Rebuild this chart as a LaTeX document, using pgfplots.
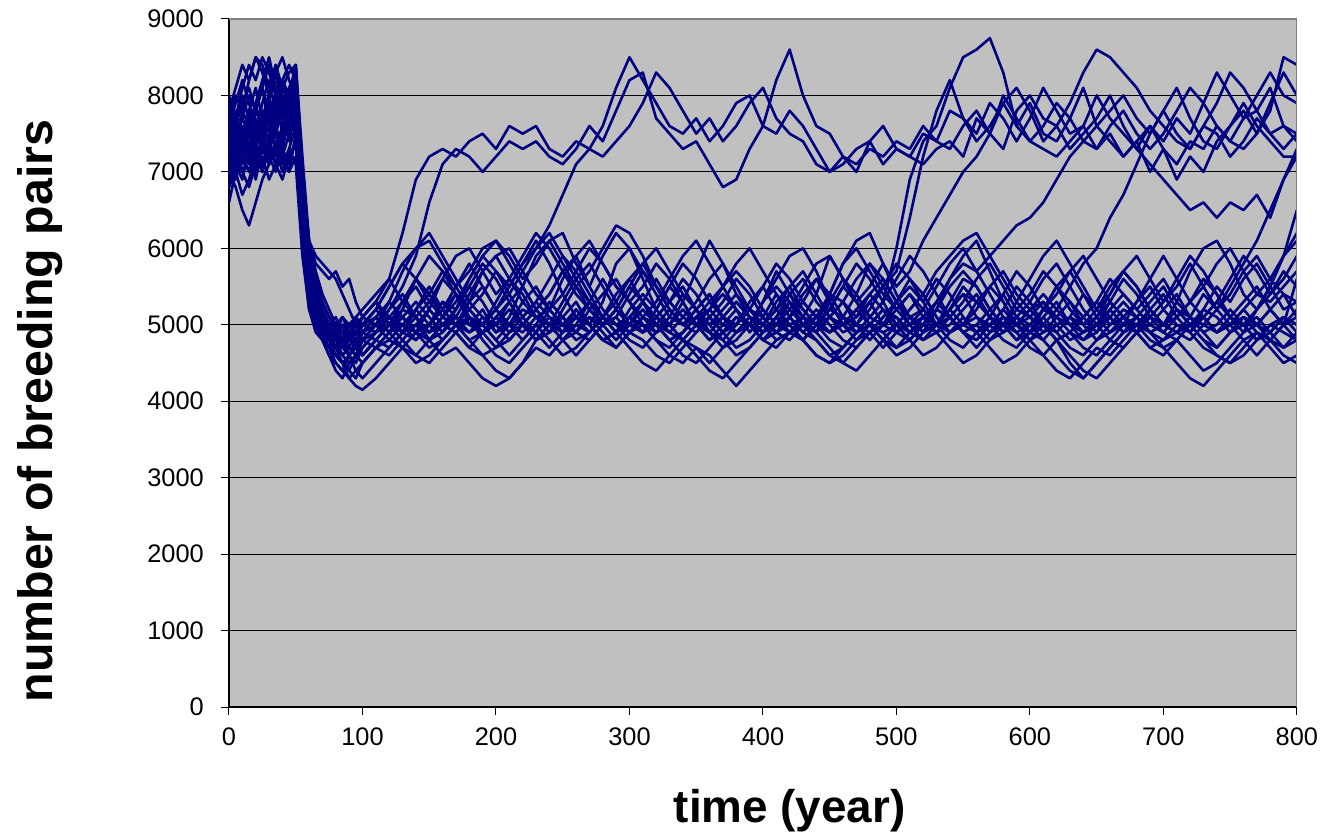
\documentclass[border=0pt]{standalone}
\usepackage{pgfplots}
\usepackage{pgfplotstable}
\pgfplotsset{compat=1.18}
\usepackage{fontspec}
\setmainfont{Liberation Sans}
\definecolor{navy}{RGB}{0,0,128}
\definecolor{bggray}{RGB}{192,192,192}
\definecolor{bordergray}{RGB}{128,128,128}

\pgfplotstableread{
name 0 5 10 15 20 25 30 35 40 45 50 55 60 65 70 75 80 85 90 95 100 110 120 130 140 150 160 170 180 190 200 210 220 230 240 250 260 270 280 290 300 310 320 330 340 350 360 370 380 390 400 410 420 430 440 450 460 470 480 490 500 510 520 530 540 550 560 570 580 590 600 610 620 630 640 650 660 670 680 690 700 710 720 730 740 750 760 770 780 790 800
U1 7100 7400 7800 7600 7900 8200 8500 8100 7700 8000 8300 6600 5600 5300 5000 4800 4900 4700 4800 5000 5100 5300 5600 6200 6900 7200 7300 7200 7400 7500 7300 7600 7500 7600 7300 7200 7400 7300 7600 8100 8500 8200 7900 7600 7500 7700 7400 7600 7900 8000 7600 8200 8600 8000 7600 7500 7200 7100 7300 7200 7400 7300 7600 7400 7800 7700 7500 7900 7700 7400 7700 8100 7800 7500 7600 8000 7700 7500 7300 7600 7400 7700 7500 7900 8300 8000 7700 7800 8100 7600 7400
U2 7300 7000 7200 7500 7100 7400 7700 7300 7600 7900 8400 7000 5900 5500 5200 5000 4900 5000 4800 4700 4900 5000 5200 5500 5900 6600 7100 7300 7200 7000 7200 7400 7300 7400 7200 7100 7300 7600 7400 7800 8200 8300 7700 7500 7300 7400 7100 6800 6900 7300 7600 7500 7800 7600 7300 7000 7100 7300 7400 7100 7300 7200 7100 7300 7400 7200 7700 7500 7300 7800 8000 7700 7600 7900 8300 8600 8500 8300 8100 7800 7600 7400 7300 7600 7500 7200 7400 7700 7500 7300 7500
U3 6600 7000 7300 7100 7600 7400 7800 8000 7500 7700 8100 6800 5800 5300 5100 4900 4700 4500 4600 4400 4300 4500 4700 4900 4800 5000 5300 5200 5600 5900 5700 5500 5800 6000 6300 6700 7100 7300 7200 7400 7600 7900 8300 8100 7800 7500 7700 7400 7600 7900 8100 7700 7500 7400 7100 7000 7200 7000 7400 7600 7300 7200 7500 7400 7300 7600 7800 7500 7900 7600 7400 7300 7200 7400 7600 7300 7500 7200 7400 7000 7300 6900 7200 7000 7400 7600 7800 7500 7900 8300 8000
U4 7500 7800 7200 7000 7400 7700 7300 7600 7900 7400 7800 6300 5400 5100 4900 4800 5000 4900 4700 4600 4800 5000 5300 5100 4900 5200 5600 5400 5000 4900 5100 5300 5000 4900 5200 5600 5900 5500 5200 5000 5100 4900 5200 5500 5300 5000 4800 5000 5200 4900 5100 5400 5200 5000 4900 5300 5600 5400 5100 5300 6000 6900 7400 7600 8100 8500 8600 8750 8300 7600 7900 7500 7400 7700 8100 7600 7400 7200 7400 7600 7300 7100 7400 7300 7600 7400 7300 7500 7800 8500 8400
U5 7000 7200 7500 7300 7800 7600 8000 8300 7800 7500 7900 6500 5700 5400 5200 5000 4800 4700 4900 4800 4600 4800 5000 5300 5600 5400 5100 5000 5300 5700 5900 5600 5300 5100 5000 4900 5200 5000 5300 5800 6000 5700 5400 5100 5000 5200 5400 5100 4900 5000 5300 5700 5400 5100 5000 4900 5100 5400 5800 5500 5700 6400 7200 7800 8200 7700 7400 7600 7900 8100 7800 7400 7600 7300 7500 7700 8000 7600 7300 7100 6900 6700 6500 6600 6400 6600 6500 6700 6400 6900 7300
U6 7600 7300 7000 7200 6900 7300 7100 7400 7200 7000 7500 6100 5300 5000 4800 4700 4900 5100 5000 4900 5100 5300 5000 4900 5100 4800 4900 5100 5000 5200 4900 5000 5300 5500 5200 5000 4900 5100 5000 4800 5000 5300 5600 5300 5100 5000 4900 5100 5000 5300 5500 5200 5000 5100 5400 5900 5600 5300 5500 5800 5500 5700 6100 6400 6700 7000 7200 7500 8000 7700 7400 7600 7900 7700 7400 7600 7800 8000 7700 7500 7800 8100 7700 7400 7300 7600 7900 7600 7400 7200 7200
U7 7200 7500 7700 8000 7800 8100 7600 7900 8200 7800 8000 6600 5700 5300 5000 4800 4600 4500 4300 4400 4500 4700 4900 5100 4900 5000 5300 5100 4900 5000 5200 5000 4800 5000 5300 5100 4900 5200 5400 5600 5300 5000 4900 5100 5400 5200 4900 4800 5000 5200 5000 4900 5100 5300 5600 5400 5100 5000 5300 5000 5200 5400 5100 5300 5600 5800 5700 5900 6100 6300 6400 6600 6900 7200 7400 7300 7600 7800 7500 7300 7500 7800 8100 7900 7600 7400 7700 8000 8300 8000 7900
U8 6900 7300 7100 7400 7200 7000 7300 7500 7100 7300 7600 6200 5500 5200 5000 4900 5000 4800 4900 5000 4800 5000 5100 4900 5200 5500 5200 5000 5100 4800 4600 4500 4700 4900 5100 5000 5200 5000 4800 4900 5100 5300 5000 4800 4600 4500 4700 4900 5100 5000 4800 5000 5300 5100 5000 5200 5500 5800 5600 5300 5000 4900 5100 5000 5200 5400 5100 5000 5200 5500 5300 5000 5200 5500 5800 6000 6400 6700 7100 7500 7800 7500 7300 7600 7900 8300 8100 7800 7500 7600 7500
U9 7300 7100 7400 7700 7400 7100 7400 7700 8000 7700 7500 6200 5400 5100 5000 4800 4900 5000 4800 4700 4900 5100 5300 5100 4900 5000 5200 5400 5100 4900 5000 5200 5000 4800 4900 5100 5300 5000 4800 4900 5100 5300 5100 4900 4800 5000 5200 5400 5200 5000 4800 4900 5100 5300 5100 4900 5000 5200 5000 4800 5000 5200 5400 5100 4900 5000 5300 5100 4900 5000 5200 5000 4800 4900 5100 5300 5100 4900 5000 5200 5000 4900 5100 5000 5200 5500 5800 6100 6500 6900 7200
U10 6800 7000 6700 6900 7200 7000 7300 7100 6900 7200 7400 6100 5300 5000 4800 4700 4500 4400 4600 4700 4600 4800 5000 4800 4600 4500 4700 4900 5100 4900 4700 4800 5000 5200 5000 4800 4600 4800 5000 5100 4900 4800 4600 4500 4700 4900 5100 4900 4700 4800 5000 5200 5000 4800 4600 4500 4600 4800 5000 4900 4700 4800 5000 4900 4700 4500 4600 4800 4900 5100 5000 4800 4600 4400 4300 4500 4700 4900 5000 4800 4700 4800 4600 4400 4500 4700 4900 5200 5500 5900 6500
L1 7400 7100 6900 7300 7000 7200 6900 7100 7300 7000 7200 6000 5200 5000 4900 5000 5100 4900 5000 5100 4900 5000 5100 4900 5000 5200 5000 4900 5100 5000 4800 5000 5200 5100 4900 5000 5100 5300 5100 4900 5000 5200 5000 4900 5100 5000 4800 4900 5100 5000 5200 5000 4900 5000 5100 5300 5000 4900 5100 5000 4900 5100 5200 5000 4900 5000 5100 4900 5000 5200 5100 4900 5000 5100 5000 4800 4900 5100 5000 5200 5000 4900 5000 5100 4900 5000 5200 5000 4900 5100 5000
L2 7800 8100 8400 8200 8500 8300 8000 8400 8100 7900 8300 6900 6100 5800 5700 5600 5700 5500 5600 5300 5100 5000 5300 5700 6000 6200 5900 5600 5300 5100 4900 5100 5500 5900 6100 6200 5800 5500 5900 6200 6000 5600 5200 5000 5300 5700 6100 5800 5400 5100 5000 5300 5500 5200 5000 5400 5800 6100 6200 5800 5400 5100 4900 5200 5600 5900 6100 5700 5300 5000 4900 5200 5500 5300 5000 5100 5400 5700 5500 5200 5000 5300 5700 6000 6100 5800 5400 5200 5500 5900 6200
L3 7000 6800 6500 6300 6600 6900 7100 7400 7200 7500 7800 6400 5600 5100 4800 4600 4500 4400 4300 4200 4150 4300 4500 4700 4600 4800 5000 4900 4700 4600 4400 4300 4500 4800 5000 4900 5100 5000 4800 4700 4900 5000 4800 4600 4500 4700 4600 4400 4200 4400 4600 4800 4900 5000 4800 4600 4700 4900 5000 4800 4600 4700 4900 5000 5100 4900 4800 5000 5200 5000 4800 4600 4400 4300 4500 4700 4600 4800 5000 4900 4700 4500 4300 4200 4400 4600 4800 4900 4700 4500 4600
L4 7200 7600 7400 7800 8100 7700 8000 7600 7300 7700 8200 6700 5800 5500 5300 5100 5000 4900 4800 4900 5000 5200 5500 5800 6000 6100 5800 5500 5700 6000 6100 5900 5600 5800 6100 5800 5500 5700 6000 6300 6200 5900 5500 5200 5000 5200 5400 5100 5000 5200 5500 5800 5600 5300 5100 5400 5800 6000 5700 5400 5200 5000 5200 5500 5800 6000 5700 5400 5100 5000 5200 5400 5200 5000 5100 5300 5600 5400 5200 5000 4900 5100 5300 5500 5800 6000 5700 5400 5600 5900 6100
L5 7600 7900 8200 7900 7600 7300 7500 7800 8100 8300 8400 7200 6100 5900 5800 5700 5600 5400 5200 5000 4900 4800 5000 5200 5100 4900 5100 5400 5200 5000 5300 5600 5400 5100 5000 5300 5600 5800 5500 5200 5000 4900 5100 5300 5600 5400 5100 4900 5000 5200 5100 4900 5100 5400 5600 5300 5000 4800 4900 5100 5300 5600 5400 5100 4900 5000 5200 5500 5300 5000 5100 5300 5000 4800 4900 5100 5300 5100 4900 5000 5200 5400 5100 4900 5000 5200 5000 4800 4900 5100 5000
L6 7300 7500 7200 7600 7900 7500 7200 7000 7300 7100 7400 6000 5300 5100 4900 4800 4700 4800 4600 4700 4900 5100 4900 5200 5600 5900 5700 5400 5100 5000 5200 5500 5800 6100 5800 5400 5100 4900 5100 5400 5600 5300 5000 4800 4900 5100 4900 4700 4800 5000 5300 5600 5900 6000 5700 5300 5000 5100 5400 5200 4900 4800 5000 5300 5100 4900 5000 5200 5400 5100 4900 5100 4900 4700 4600 4800 5000 5200 5100 4900 5000 5200 5000 4800 4700 4900 5100 5000 4800 4700 4900
L7 7900 7600 7300 7700 7500 7900 8200 7800 7600 7900 8000 6500 5600 5200 5000 4900 4800 4600 4500 4600 4700 4900 5200 5400 5100 4900 5000 5200 5500 5800 5600 5300 5000 4800 4900 5200 5500 5200 5000 5100 5400 5700 5500 5200 5000 4900 5100 5300 5600 5400 5100 4900 4800 5000 5200 5000 4800 4700 4900 5100 5300 5100 4900 5000 5300 5600 5500 5200 5000 4800 5000 5200 5500 5700 5400 5100 4900 5000 5300 5600 5900 5600 5300 5100 4900 5000 4800 4600 4800 5000 5200
L8 6800 7100 7500 7200 7000 7400 7700 7300 7600 8000 8200 6800 5900 5500 5200 5000 4900 4800 5000 5100 5000 4900 5000 5300 5500 5200 5000 5100 5400 5700 5900 6000 5700 5400 5200 5400 5700 6000 5800 5500 5300 5100 5300 5600 5900 6100 5800 5500 5200 5000 4900 5100 5300 5100 5000 5200 5500 5300 5000 4900 5000 5200 5400 5700 5900 6100 6200 5900 5600 5300 5100 5000 4900 5100 5400 5200 5000 5100 5300 5500 5200 5000 4900 5100 5300 5600 5900 5700 5400 5600 5900
L9 7100 6900 7200 7000 7300 7600 7400 7200 7500 7800 7600 6300 5400 5000 4800 4600 4400 4300 4500 4600 4800 5000 4800 4700 4900 4800 4600 4700 4500 4300 4200 4300 4500 4700 4600 4800 5000 4900 5100 5000 4800 4700 4900 5000 4800 4600 4400 4300 4500 4700 4900 5000 5100 4900 4800 4600 4500 4700 4900 5000 5100 4900 4800 5000 5200 5000 4900 5000 4800 4700 4900 5000 4800 4500 4300 4500 4700 4900 5100 4900 4800 4900 5000 5200 5100 4900 5000 5100 4900 4700 4800
L10 7500 7300 7600 7300 7100 7500 7900 8300 8500 8200 8000 6400 5500 5300 5100 5000 4900 4700 4800 4900 5000 5100 4900 5000 5200 5000 4800 5000 5300 5500 5200 5000 5100 5300 5100 4900 5000 5300 5600 5300 5000 4900 5000 5200 5000 5100 5300 5100 4900 5000 5300 5500 5300 5000 4900 5100 5000 5200 5400 5600 5300 5000 5100 4900 5000 5200 5400 5100 5000 4800 4900 5100 5300 5000 4900 5000 5200 5000 5100 5300 5500 5200 5000 5100 5300 5100 4900 5000 5200 5400 5300
L11 7700 8000 7800 8200 8500 8400 8100 8400 7900 8100 8300 6900 6000 5600 5300 5100 4900 4800 4600 4500 4700 4900 5100 5300 5600 5400 5200 5500 5800 5500 5200 5400 5700 6000 6200 5900 5600 5300 5100 5300 5600 5800 5500 5300 5100 5300 5600 5800 5500 5200 5000 5200 5500 5700 5400 5100 4900 5000 5200 5500 5800 5600 5300 5000 5200 5500 5300 5100 4900 5100 5300 5600 5800 5500 5200 5000 5300 5600 5400 5100 5300 5600 5900 5700 5400 5100 5300 5500 5200 5000 5600
L12 7400 7700 8000 7700 7400 7800 7500 7900 8200 8000 7700 6300 5400 5100 4900 4700 4600 4500 4400 4600 4800 4700 4800 5000 4900 4700 4800 5000 4800 4600 4700 4900 5100 4900 4700 4900 5100 5000 4800 4900 5100 5000 4800 4700 4900 5100 5000 4800 4600 4700 4900 5100 4900 4800 4600 4500 4700 4900 5000 4800 4700 4900 5100 5000 4800 4700 4900 5100 5000 4900 4700 4600 4800 4900 4700 4600 4800 5000 4900 4700 4800 5000 4900 4700 4600 4500 4600 4800 5000 4900 4800
L13 7000 7300 7000 6800 7100 7400 7100 7300 7000 7300 7100 5900 5200 4900 4800 4900 4800 5000 4900 5100 5200 5400 5600 5300 5100 5300 5600 5900 6000 5700 5400 5600 5900 6200 6000 5700 5400 5200 5000 5200 5500 5800 6000 5700 5400 5200 5000 5100 5300 5100 4900 5100 5400 5600 5300 5100 5300 5600 5800 5600 5300 5100 5000 5200 5500 5700 5500 5200 5000 5300 5600 5900 6100 5800 5500 5200 5400 5700 5500 5200 5000 5100 5300 5600 5400 5100 5000 5200 5400 5700 5500
L14 8000 7700 8100 8400 8200 8500 8300 8000 7700 8000 8400 7000 6100 5700 5400 5200 5000 4800 4700 4600 4500 4700 4600 4800 5000 4900 5100 5000 4800 4900 5100 5000 4900 5100 5200 5000 4800 4900 5100 5000 4900 5100 5000 4800 4900 5100 5200 5000 4900 5100 5000 4800 4900 5100 5000 4800 4700 4900 5000 5200 5100 4900 5000 5200 5100 4900 4800 5000 5100 4900 5000 5200 5100 4900 4800 5000 5100 4900 5000 5100 4900 4800 5000 5100 4900 5000 5100 4900 4800 5000 5100
L15 7200 6900 7300 7600 7300 7000 7400 7100 7400 7700 8000 6600 5700 5400 5100 4900 4700 4800 5000 4900 5100 5300 5100 4900 5200 5400 5700 5500 5200 5400 5700 5400 5100 5300 5600 5900 5700 5400 5100 4900 5200 5400 5200 5500 5800 5600 5300 5500 5800 6000 5700 5400 5100 4900 5100 5400 5300 5000 4800 5000 5300 5500 5300 5600 5400 5100 4900 5100 5400 5700 5500 5200 5400 5700 5900 5600 5300 5100 4900 5200 5400 5100 4900 5200 5500 5300 5600 5800 5500 5200 5300
L16 7600 7400 7700 7500 7800 8100 7800 7500 7800 7600 7900 6400 5500 5200 5000 4800 4600 4500 4400 4300 4500 4700 4900 4700 4500 4600 4800 5000 5200 5000 4800 4600 4800 5000 4800 4600 4700 4900 5100 4900 4700 4500 4400 4600 4800 4700 4500 4700 4900 5000 4800 4700 4900 5100 4900 4700 4500 4400 4600 4800 5000 4800 4600 4700 4900 5100 4900 4700 4500 4600 4800 5000 4800 4600 4400 4300 4500 4700 4900 4700 4600 4800 5000 4800 4600 4500 4700 4900 4800 4600 4500
L17 6900 7200 7500 7800 7500 7700 8000 8300 8000 7800 8100 6600 5800 5400 5100 4900 5000 5100 4900 4800 5000 5200 5000 5100 5300 5100 4900 5200 5500 5300 5000 5300 5500 5200 5400 5700 5500 5300 5000 5200 5500 5300 5100 5300 5500 5200 5000 5200 5400 5200 5000 5200 5400 5200 5000 5100 5300 5100 5300 5500 5200 5400 5200 5000 5200 5400 5300 5500 5700 5400 5200 5300 5100 5300 5100 4900 5200 5400 5200 5400 5600 5300 5100 5400 5200 5000 5200 5400 5300 5500 5700
L18 7700 7500 7300 7500 7700 7400 7700 8000 7700 7500 7700 6200 5400 5100 4900 4800 4900 5000 4900 4700 4600 4800 4700 4900 5000 4800 5000 4900 4700 4900 5100 4900 5000 4800 5000 5100 4900 4800 5000 5200 5000 4900 5100 5000 4800 5000 5100 4900 5100 5000 4800 4900 5000 4800 5000 4900 5100 5000 4900 4700 4900 5000 4800 4900 5100 4900 5000 4800 5000 5100 4900 4800 5000 5100 4900 5000 4800 4700 4900 5100 5000 4900 4800 5000 4900 5100 5000 4800 5000 5100 4900
L19 7300 7600 7900 8100 7800 8100 8400 8100 7800 7500 7700 6300 5600 5300 5100 5000 4800 4700 4600 4800 5000 5200 5500 5800 5600 5300 5100 5300 5600 5900 6100 5800 5500 5200 5400 5700 5900 6100 5800 5500 5300 5500 5800 5600 5300 5000 5200 5500 5700 5500 5200 5000 5200 5500 5800 5900 5600 5300 5100 5300 5600 5900 5700 5400 5100 5300 5600 5800 5500 5200 5400 5700 5500 5200 5000 5200 5500 5700 5900 5600 5300 5500 5800 5500 5200 5400 5700 5900 5600 5400 5100
L20 7100 7300 7000 7200 7500 7800 7600 7900 8200 8400 8200 6700 5800 5300 5000 4800 4700 4600 4700 4900 4800 4900 5100 5000 4800 5000 5200 5000 4900 5100 5000 4800 5000 5200 5000 4800 4900 5100 4900 4700 4900 5100 4900 5000 5200 5000 4900 5100 5300 5100 4900 5100 4900 4800 5000 5200 5100 4900 5000 5200 5000 4800 5000 5200 5100 4900 4700 4900 5100 5000 4800 4900 5100 5000 4800 4900 5100 5300 5100 4900 5000 5200 5100 4900 4700 4900 5100 5000 5200 5000 4800
}\rawdata
\pgfplotstabletranspose[colnames from=name,input colnames to=year]\pairsdata\rawdata

\begin{document}
\begin{tikzpicture}
\path[use as bounding box] (-229bp,-127bp) rectangle (1094bp,707bp);
\begin{axis}[
  scale only axis,
  width=1068bp, height=688bp,
  xmin=0, xmax=800, ymin=0, ymax=9000,
  xtick={0,100,...,800},
  ytick={0,1000,...,9000},
  axis background/.style={fill=bggray},
  axis x line*=bottom, axis y line*=left,
  axis line style={black, line width=1.2bp},
  tick align=outside,
  major tick length=8bp,
  tick style={black, line width=1bp},
  ymajorgrids,
  grid style={black, line width=1bp},
  /pgf/number format/assume math mode=true,
  /pgf/number format/1000 sep={},
  tick label style={font=\fontsize{25.5}{30}\selectfont},
  xticklabel style={inner sep=0pt, anchor=north, yshift=-13bp},
  yticklabel style={inner sep=0pt, anchor=east, xshift=-17bp},
  xlabel={time (year)},
  ylabel={number of breeding pairs},
  xlabel style={font=\fontsize{46}{54}\selectfont\bfseries, at={(axis description cs:0.525,-0.150)}, anchor=center},
  ylabel style={font=\fontsize{48.5}{56}\selectfont\bfseries, at={(axis description cs:-0.177,0.430)}, anchor=center},
]
\pgfplotsinvokeforeach{U1,U2,U3,U4,U5,U6,U7,U8,U9,U10,L1,L2,L3,L4,L5,L6,L7,L8,L9,L10,L11,L12,L13,L14,L15,L16,L17,L18,L19,L20}{
  \addplot[navy, line width=2.6bp, line join=round, mark=none] table[x=year, y=#1] {\pairsdata};
}
\draw[bordergray, line width=1.5bp] (rel axis cs:0,1) -- (rel axis cs:1,1) -- (rel axis cs:1,0);
\end{axis}
\end{tikzpicture}
\end{document}
